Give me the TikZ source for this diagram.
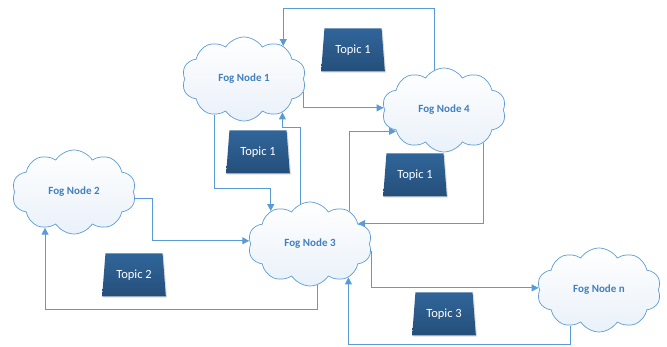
\documentclass[tikz,border=0pt]{standalone}
\usepackage{fontspec}
\setmainfont{Carlito}
\usepackage{tikz}
\usetikzlibrary{shadows,shadings}
\usetikzlibrary{positioning, arrows.meta}
\usetikzlibrary{shapes,shapes.geometric}
\definecolor{linkblue}{HTML}{5B9BD5}
\definecolor{fogtext}{HTML}{4180BF}
\definecolor{cloudfill}{HTML}{EAF1F9}
\definecolor{topictop}{HTML}{30659A}
\definecolor{topicbot}{HTML}{254F7A}

\begin{document}
\begin{tikzpicture}[
	fog/.style={cloud, cloud puffs=10, cloud puff arc=115, cloud ignores aspect, minimum width=124pt, minimum height=84pt, draw=linkblue, line width=0.7pt, top color=white, bottom color=cloudfill, text=fogtext, font=\fontsize{11}{13}\selectfont\bfseries},
	topic/.style={trapezium, trapezium left angle=82, trapezium right angle=82, trapezium stretches=true, minimum width=64pt, minimum height=43pt, top color=topictop, bottom color=topicbot, text=white, font=\fontsize{12.5}{14}\selectfont, drop shadow={opacity=0.25, shadow xshift=1.2pt, shadow yshift=-1.2pt}},
	link/.style={draw=linkblue, line width=1pt, -{Triangle[length=7pt,width=7pt]}},
	on grid]
			\useasboundingbox (0,0) rectangle (667pt,347pt);
			\node[fog] (fog3) at (310pt,103pt) {Fog Node 3};
			\node[fog, above left = 165pt and 66pt of fog3] (fog1) {Fog Node 1};
			\node[fog, above right = 134pt and 134pt of fog3] (fog4) {Fog Node 4};
			\node[fog, above left = 52pt and 236pt of fog3] (fog2) {Fog Node 2};
			\node[fog, below right = 46pt and 289pt of fog3] (fogn) {Fog Node n};
			
			\node[topic, above right = 29pt and 109pt of fog1] (t1) {Topic 1};
			\node[topic, below right = 73pt and 14pt of fog1] (t2) {Topic 1};
			\node[topic, below left = 65pt and 29pt of fog4] (t3) {Topic 1};
			\node[topic, below right = 83pt and 60pt of fog2] (t4) {Topic 2};
			\node[topic, below right = 70pt and 134pt of fog3] (t5) {Topic 3};
			
			\draw[link] (fog4.104) -- ++(0,62pt) -| (fog1.40);
			\draw[link] (fog1.348) |- (fog4.178);
			\draw[link] (fog3.104) -- ++(0,77pt) -| (fog1.319);
			\draw[link] (fog1.230) -- ++(0,-74pt) -| (fog3.140);
			\draw[link] (fog3.40) |- (fog4.204);
			\draw[link] (fog4.320) |- (fog3.23);
			\draw[link] (fog2.354) -- ++(17pt,0) |- (fog3.177);
			\draw[link] (fog3.281) -- ++(0,-25pt) -| (fog2.231);
			\draw[link] (fog3.353) |- (fogn.178);
		\draw[link] (fogn.231) -- ++(0,-19pt) -| (fog3.319);
		\end{tikzpicture}
\end{document}
